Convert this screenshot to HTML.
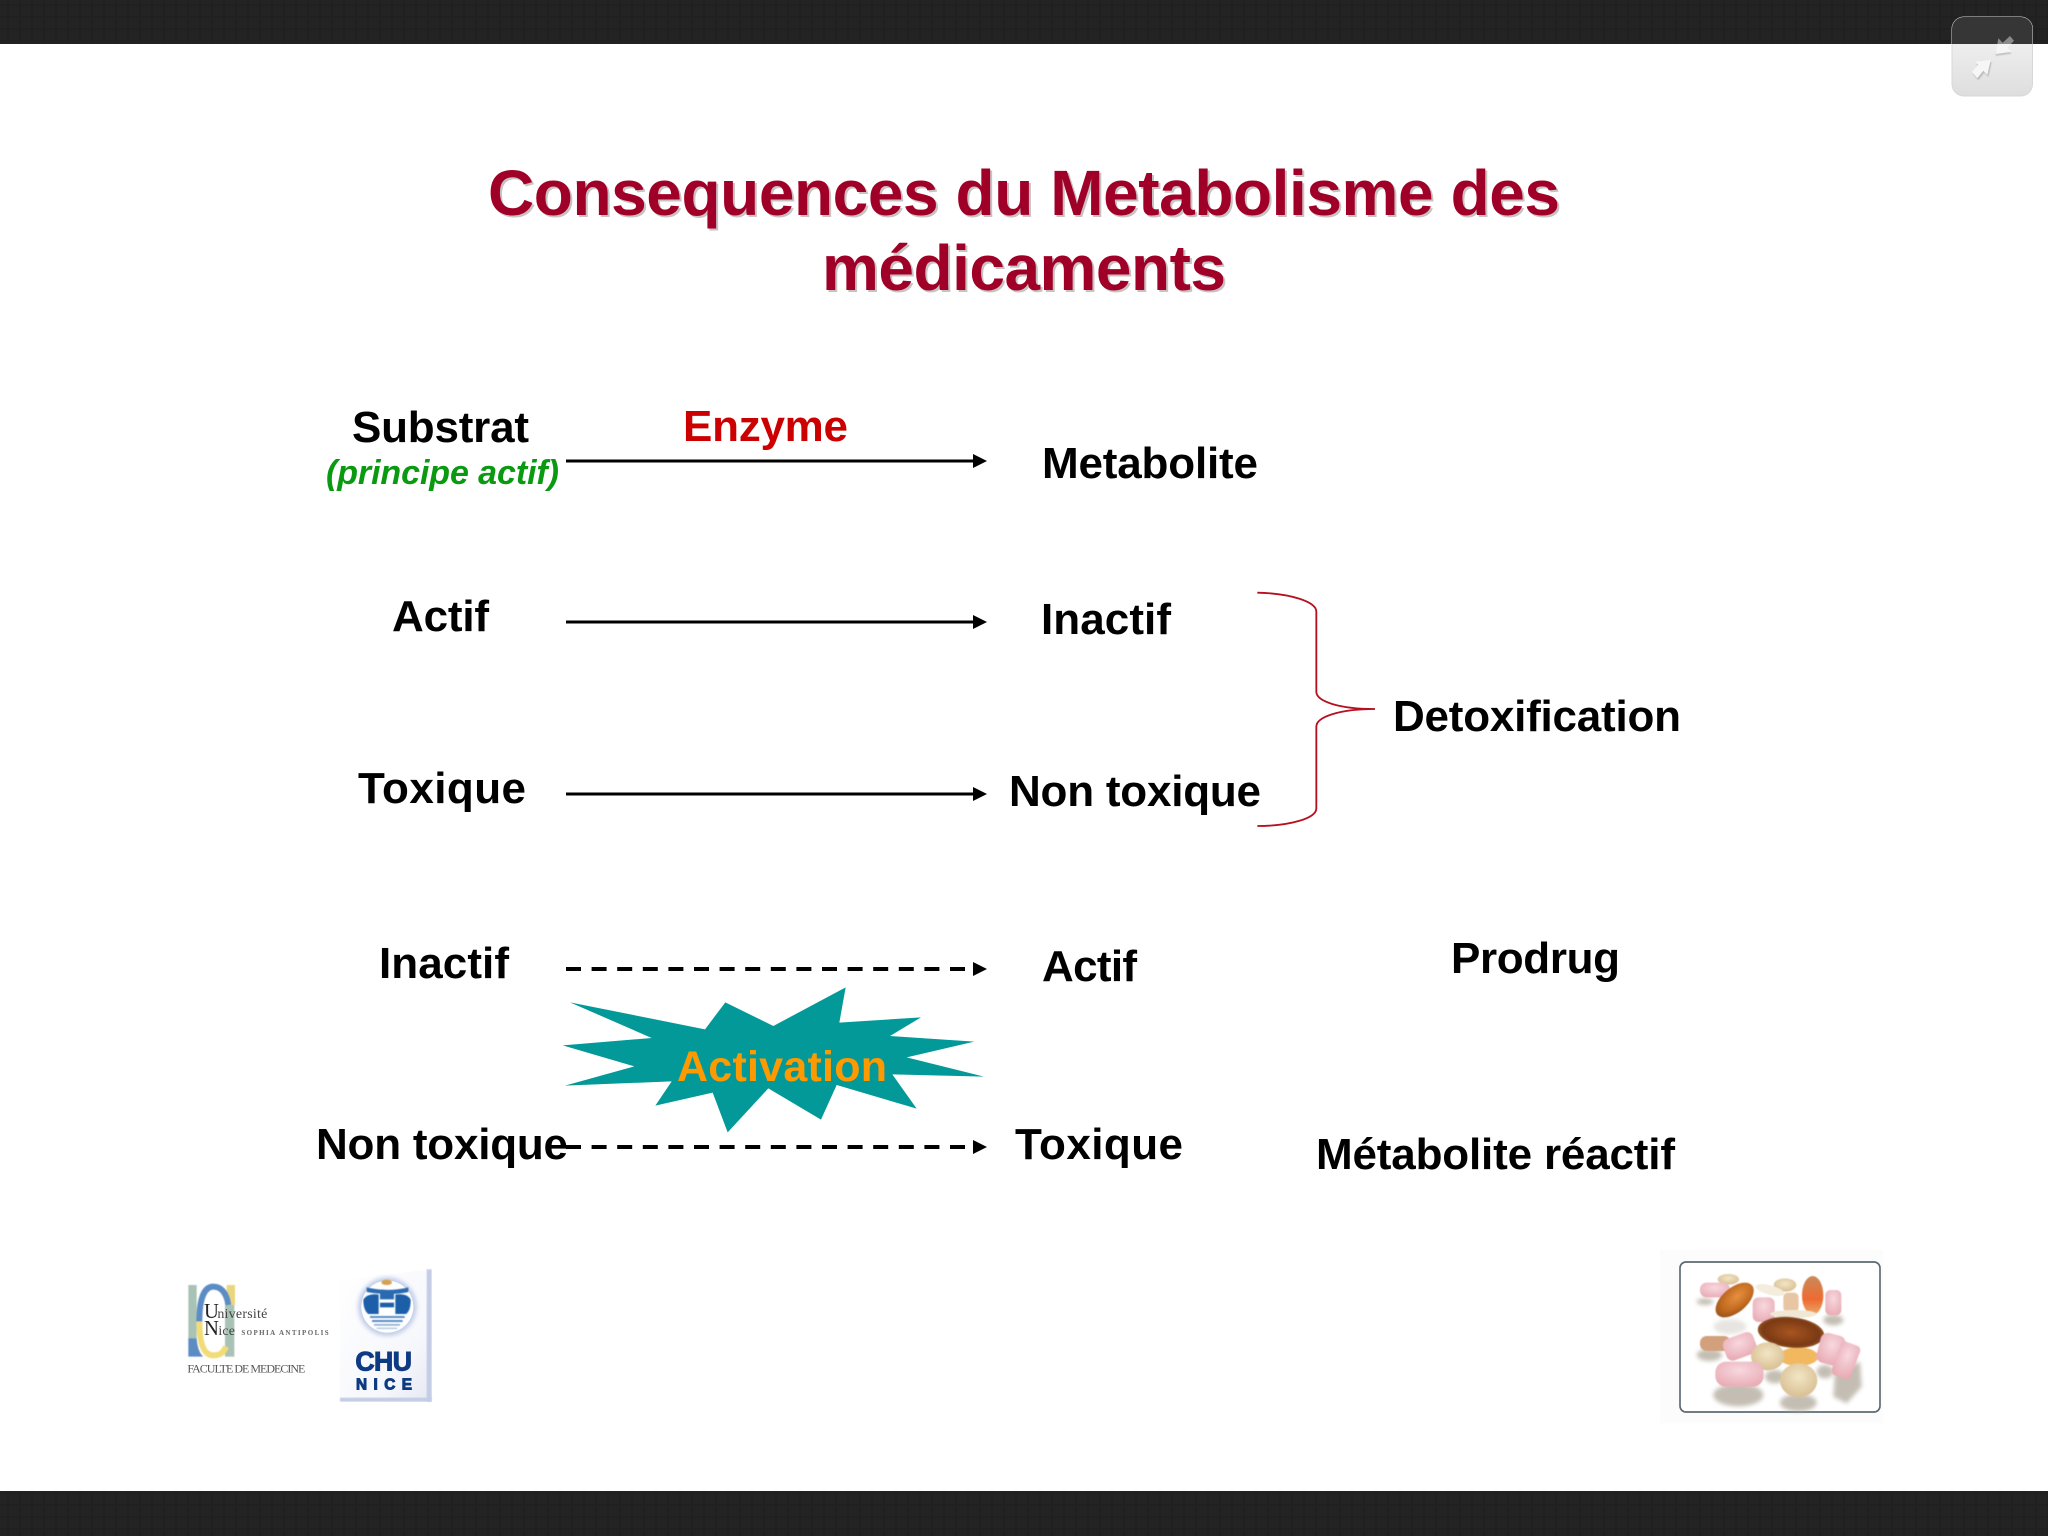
<!DOCTYPE html>
<html><head><meta charset="utf-8"><style>
html,body{margin:0;padding:0;background:#fff;width:2048px;height:1536px;overflow:hidden}
svg{display:block}
text{font-family:"Liberation Sans",Arial,sans-serif}
.b{font-weight:700;font-size:44px;fill:#000}
.r{font-family:"Liberation Serif",serif}
</style></head><body>
<svg xmlns="http://www.w3.org/2000/svg" width="2048" height="1536" viewBox="0 0 2048 1536">
<defs>
<filter id="s0" x="-5%" y="-5%" width="110%" height="110%"><feGaussianBlur stdDeviation="0.45"/></filter>
<filter id="s1" x="-5%" y="-5%" width="110%" height="110%"><feGaussianBlur stdDeviation="1.6"/></filter>
<filter id="s2" x="-30%" y="-30%" width="160%" height="160%"><feGaussianBlur stdDeviation="6"/></filter>
<pattern id="tx" width="12" height="12" patternUnits="userSpaceOnUse"><rect width="12" height="12" fill="#232323"/><rect width="12" height="2" y="4" fill="#202020"/><rect width="2" height="12" x="7" fill="#202020"/></pattern>
<linearGradient id="btn" x1="0" y1="0" x2="0" y2="1"><stop offset="0" stop-color="#f6f6f6"/><stop offset="1" stop-color="#dedede"/></linearGradient>
<linearGradient id="chu" x1="0" y1="0" x2="1" y2="1"><stop offset="0" stop-color="#fff"/><stop offset=".7" stop-color="#f6f7fc"/><stop offset="1" stop-color="#e4e8f4"/></linearGradient>
<radialGradient id="amb" cx=".45" cy=".4" r=".7"><stop offset="0" stop-color="#e89040"/><stop offset=".6" stop-color="#c06a20"/><stop offset="1" stop-color="#8a4a18"/></radialGradient>
<radialGradient id="amb2" cx=".5" cy=".5" r=".6"><stop offset="0" stop-color="#a85520"/><stop offset=".7" stop-color="#7a3a15"/><stop offset="1" stop-color="#b07030"/></radialGradient>
<radialGradient id="pnk" cx=".5" cy=".35" r=".7"><stop offset="0" stop-color="#f8d8de"/><stop offset="1" stop-color="#e8aab4"/></radialGradient>
<radialGradient id="tan" cx=".5" cy=".4" r=".7"><stop offset="0" stop-color="#f2e6c4"/><stop offset="1" stop-color="#d4b88c"/></radialGradient>
<linearGradient id="org" x1="0" y1="0" x2="0" y2="1"><stop offset="0" stop-color="#c88a5c"/><stop offset=".6" stop-color="#ee6a30"/><stop offset="1" stop-color="#eaa868"/></linearGradient>
<clipPath id="top"><rect x="1940" y="0" width="100" height="44"/></clipPath>
<clipPath id="bot"><rect x="1940" y="44" width="100" height="60"/></clipPath>
</defs>

<rect width="2048" height="1536" fill="#fff"/>
<rect width="2048" height="44" fill="url(#tx)"/>
<rect y="1491" width="2048" height="45" fill="url(#tx)"/>

<!-- corner button -->
<rect x="1952" y="17" width="80.5" height="79" rx="12" fill="url(#btn)" stroke="#d8d8d8"/>
<path d="M1952 44V29a12 12 0 0 1 12-12h56.500a12 12 0 0 1 12 12v15z" fill="#363636"/>
<polygon points="1990.700,60 1987.300,75 1983.300,70.700 1977.300,78.300 1971.700,71.700 1978.300,65 1975,61.700" fill="#aaa" opacity=".7" transform="translate(1 2)" filter="url(#s0)"/>
<polygon points="1990.700,60 1987.300,75 1983.300,70.700 1977.300,78.300 1971.700,71.700 1978.300,65 1975,61.700" fill="#f6f6f6"/>
<polygon points="1995.700,54 2011.700,51.700 2007.300,47.700 1996,50" fill="#aaa" opacity=".6" transform="translate(0 2)" filter="url(#s0)"/>
<g clip-path="url(#top)"><polygon points="1995.700,54 1998.300,38.300 2002.700,42.700 2010,36 2014,40.700 2007.300,47.700 2011.700,51.700" fill="#8a8a8a"/></g>
<g clip-path="url(#bot)"><polygon points="1995.700,54 1998.300,38.300 2002.700,42.700 2010,36 2014,40.700 2007.300,47.700 2011.700,51.700" fill="#f6f6f6"/></g>

<!-- title -->
<g font-weight="700" font-size="64" text-anchor="middle">
<text x="1026" y="217" fill="#c8c2c2" textLength="1072">Consequences du Metabolisme des</text>
<text x="1026" y="292" fill="#c8c2c2" textLength="404">médicaments</text>
<text x="1024" y="215" fill="#a00028" textLength="1072">Consequences du Metabolisme des</text>
<text x="1024" y="290" fill="#a00028" textLength="404">médicaments</text>
</g>

<!-- arrows -->
<g stroke="#000" fill="none">
<g stroke-width="3"><path d="M566 461H975"/><path d="M566 622H975"/><path d="M566 794H975"/></g>
<g stroke-width="4"><path d="M566 969H975" stroke-dasharray="15 10.6"/><path d="M566 1147H975" stroke-dasharray="15 10.6"/></g>
</g>
<g fill="#000">
<polygon points="973,454 987,461 973,468"/><polygon points="973,615 987,622 973,629"/><polygon points="973,787 987,794 973,801"/>
<polygon points="973,962 987,969 973,976"/><polygon points="973,1140 987,1147 973,1154"/>
</g>

<!-- starburst -->
<g transform="translate(540 950) scale(.33333)">
<polygon fill="#049999" points="90,157 495,238 556,157 700,228 917,112 898,218 1143,202 1050,258 1303,275 1100,322 1332,380 1057,373 1130,476 890,405 843,509 685,415 563,547 518,428 346,467 395,394 75,407 283,349 68,286 335,264"/>
</g>
<text x="677" y="1081" font-weight="700" font-size="43" fill="#ff9900" textLength="210">Activation</text>

<!-- brace -->
<path transform="translate(1240 580) scale(.33333)" d="M52,38C150,40 229,65 229,95L229,335C229,365 300,387 405,387C300,387 229,410 229,440L229,685C229,715 150,738 52,738" fill="none" stroke="#b5101f" stroke-width="5.500"/>

<!-- labels -->
<text class="b" x="352" y="442" textLength="177">Substrat</text>
<text x="326" y="484" font-weight="700" font-style="italic" font-size="34" fill="#0a9a12" textLength="233">(principe actif)</text>
<text class="b" x="683" y="441" style="fill:#cc0000" textLength="165">Enzyme</text>
<text class="b" x="1042" y="478" textLength="216">Metabolite</text>
<text class="b" x="392" y="631" textLength="97">Actif</text>
<text class="b" x="1041" y="634" textLength="130">Inactif</text>
<text class="b" x="358" y="803" textLength="168">Toxique</text>
<text class="b" x="1009" y="806" textLength="252">Non toxique</text>
<text class="b" x="1393" y="731" textLength="288">Detoxification</text>
<text class="b" x="379" y="978" textLength="130">Inactif</text>
<text class="b" x="1042" y="981" textLength="95">Actif</text>
<text class="b" x="1451" y="973" textLength="169">Prodrug</text>
<text class="b" x="316" y="1159" textLength="252">Non toxique</text>
<text class="b" x="1015" y="1159" textLength="168">Toxique</text>
<text class="b" x="1316" y="1169" textLength="359">Métabolite réactif</text>

<!-- university logo -->
<g transform="translate(160 1250) scale(.33333)">
<g filter="url(#s1)">
<rect x="85" y="105" width="25" height="165" fill="#a9c2b6"/>
<path d="M85 320V265H110C112 290 118 310 130 320Z" fill="#5b8cc4"/>
<rect x="195" y="165" width="28" height="155" fill="#a9c2b6"/>
<rect x="200" y="105" width="25" height="60" fill="#e9d77e"/>
<path d="M118 215C118 140 135 110 160 110C180 110 200 125 205 165" fill="none" stroke="#5b8cc4" stroke-width="18"/>
<path d="M118 215C118 290 135 316 160 316C178 316 190 310 198 290" fill="none" stroke="#f2dc78" stroke-width="18"/>
</g>
<g filter="url(#s0)">
<text class="r" x="132" y="204" font-size="62" fill="#222" textLength="40">U</text>
<text class="r" x="172" y="204" font-size="42" fill="#444" textLength="150">niversité</text>
<text class="r" x="132" y="255" font-size="62" fill="#222" textLength="42">N</text>
<text class="r" x="175" y="255" font-size="42" fill="#444" textLength="50">ice</text>
<text class="r" x="244" y="255" font-size="21" font-weight="700" fill="#666" textLength="262">SOPHIA ANTIPOLIS</text>
<text class="r" x="82" y="368" font-size="36" fill="#555" textLength="354">FACULTE DE MEDECINE</text>
</g>
</g>

<!-- CHU logo -->
<g transform="translate(160 1250) scale(.33333)">
<path d="M540 90L795 60H815V455H540Z" fill="url(#chu)"/>
<rect x="800" y="58" width="15" height="397" fill="#c4cde6" filter="url(#s1)"/>
<rect x="540" y="443" width="275" height="12" fill="#c4cde6" filter="url(#s1)"/>
<circle cx="682" cy="170" r="88" fill="#c3cee8" filter="url(#s2)"/>
<circle cx="682" cy="170" r="78" fill="#fff"/>
<g filter="url(#s1)">
<path d="M620 112C660 122 705 122 745 112V126C712 134 660 134 620 126Z" fill="#2a6ab0"/>
<path d="M610 150C615 135 640 130 656 134V192H625C615 185 610 170 610 150Z" fill="#1c5ea8"/>
<path d="M752 150C748 135 725 130 706 134V192H738C748 185 752 170 752 150Z" fill="#1c5ea8"/>
<path d="M660 130H702V148H660Z" fill="#2a6ab0"/>
<rect x="660" y="158" width="42" height="14" fill="#1c5ea8"/>
<g fill="#5b8cc4"><rect x="630" y="198" width="104" height="6"/><rect x="636" y="210" width="92" height="6"/><rect x="642" y="222" width="78" height="5" opacity=".7"/><rect x="650" y="233" width="62" height="4" opacity=".5"/></g>
<ellipse cx="680" cy="97" rx="16" ry="8" fill="#d8a050"/>
</g>
<text x="586" y="362" font-weight="700" font-size="80" fill="#0c3a82" stroke="#0c3a82" stroke-width="3" textLength="170" filter="url(#s0)">CHU</text>
<text x="588" y="418" font-weight="700" font-size="46" fill="#0c3a82" stroke="#0c3a82" stroke-width="3" textLength="168" filter="url(#s0)">NICE</text>
</g>

<!-- pills -->
<g transform="translate(1650 1240) scale(.33333)">
<rect x="30" y="30" width="670" height="520" fill="#fcfcfc"/>
<rect x="90" y="66" width="600" height="450" rx="18" fill="#fff" stroke="#5d6a72" stroke-width="5"/>
<g fill="#b0a89a" opacity=".75" filter="url(#s2)">
<ellipse cx="265" cy="465" rx="75" ry="34"/><ellipse cx="445" cy="488" rx="55" ry="26"/><path d="M555 400L630 365L635 440L590 490L550 470Z"/><ellipse cx="178" cy="345" rx="38" ry="18"/><ellipse cx="550" cy="240" rx="30" ry="16"/><ellipse cx="165" cy="185" rx="25" ry="10"/><ellipse cx="240" cy="260" rx="50" ry="22" opacity=".4"/><ellipse cx="375" cy="410" rx="30" ry="20"/><ellipse cx="525" cy="395" rx="25" ry="20"/>
</g>
<g filter="url(#s1)">
<ellipse cx="445" cy="350" rx="60" ry="28" fill="#f2b860"/>
<ellipse cx="235" cy="118" rx="32" ry="16" fill="url(#tan)"/>
<ellipse cx="405" cy="135" rx="34" ry="20" fill="url(#tan)"/>
<ellipse cx="360" cy="150" rx="45" ry="14" fill="#f4ecdc" transform="rotate(15 360 150)"/>
<rect x="150" y="128" width="90" height="44" rx="20" fill="url(#pnk)"/>
<rect x="400" y="158" width="46" height="58" rx="14" fill="#e8c6a4"/>
<rect x="526" y="150" width="48" height="76" rx="16" fill="url(#pnk)"/>
<rect x="308" y="172" width="66" height="74" rx="18" fill="url(#pnk)"/>
<ellipse cx="254" cy="180" rx="37" ry="68" fill="url(#amb)" transform="rotate(50 254 180)"/>
<ellipse cx="488" cy="166" rx="32" ry="58" fill="url(#org)"/>
<ellipse cx="430" cy="222" rx="70" ry="12" fill="#f0e8d4"/>
<rect x="150" y="288" width="92" height="45" rx="20" fill="#d2a07c"/>
<rect x="222" y="285" width="96" height="68" rx="20" fill="url(#pnk)" transform="rotate(-20 270 320)"/>
<ellipse cx="423" cy="277" rx="100" ry="46" fill="url(#amb2)" transform="rotate(6 423 277)"/>
<ellipse cx="353" cy="349" rx="50" ry="42" fill="url(#tan)"/>
<rect x="505" y="282" width="76" height="92" rx="22" fill="url(#pnk)" transform="rotate(15 543 328)"/>
<rect x="557" y="308" width="62" height="106" rx="14" fill="url(#pnk)" transform="rotate(20 587 360)"/>
<rect x="196" y="365" width="145" height="75" rx="32" fill="url(#pnk)"/>
<ellipse cx="446" cy="421" rx="56" ry="51" fill="url(#tan)"/>
</g>
</g>
</svg>
</body></html>
